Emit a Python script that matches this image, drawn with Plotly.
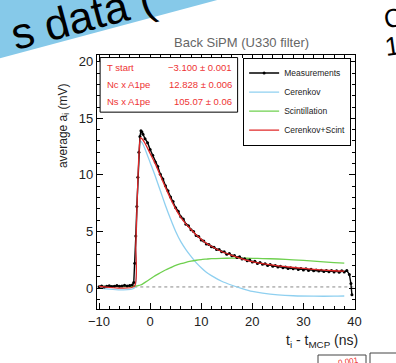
import plotly.graph_objects as go

# ---------------- data ----------------
meas_t = [-10, -9.5, -9, -8.5, -8, -7.5, -7, -6.5, -6, -5.5, -5, -4.5, -4, -3.5,
          -3.2, -3.0, -2.8, -2.6, -2.4, -2.2, -2.0, -1.8, -1.6, -1.4,
          -1.0, -0.5, 0, 0.5, 1.0, 1.5, 2.0, 2.5, 3.0, 3.5, 4.0, 4.5, 5.0, 5.5, 6.0, 6.5,
          7.0, 7.5, 8.0, 8.5, 9.0, 9.5, 10, 10.5, 11, 11.5, 12, 12.5, 13, 13.5, 14, 14.5,
          15, 15.5, 16, 16.5, 17, 17.5, 18, 18.5, 19, 19.5, 20, 20.5, 21, 21.5, 22, 22.5,
          23, 23.5, 24, 24.5, 25, 25.5, 26, 26.5, 27, 27.5, 28, 28.5, 29, 29.5, 30, 30.5,
          31, 31.5, 32, 32.5, 33, 33.5, 34, 34.5, 35, 35.5, 36, 36.5, 37, 37.5, 38, 38.5,
          39, 39.3, 39.5]
meas_v = [0.12, 0.18, 0.10, 0.16, 0.20, 0.13, 0.17, 0.22, 0.15, 0.19, 0.24, 0.18, 0.22, 0.27,
          0.5, 2.2, 4.6, 7.2, 9.8, 12.0, 13.4, 13.9, 13.8, 13.6,
          13.2, 12.85, 12.25, 11.75, 11.15, 10.75, 10.05, 9.65, 9.05, 8.6, 8.05, 7.65, 7.1, 6.8, 6.3, 6.1,
          5.65, 5.5, 5.15, 5.0, 4.65, 4.55, 4.25, 4.15, 3.9, 3.85, 3.65, 3.6, 3.4, 3.4, 3.2, 3.2,
          3.0, 3.05, 2.85, 2.88, 2.7, 2.76, 2.56, 2.6, 2.42, 2.47, 2.3, 2.36, 2.18, 2.26, 2.1, 2.16,
          2.0, 2.08, 1.93, 2.0, 1.87, 1.93, 1.8, 1.86, 1.73, 1.8, 1.7, 1.78, 1.65, 1.73, 1.6, 1.7,
          1.56, 1.67, 1.53, 1.6, 1.5, 1.58, 1.46, 1.56, 1.44, 1.55, 1.42, 1.53, 1.4, 1.52, 1.42, 1.55,
          1.2, 0.4, -0.6]

fit_t = [-10, -3.1, -2.8, -2.5, -2.2, -1.9, -1.5, -1, 0, 1, 2, 3, 4, 5, 6, 7, 8, 9, 10,
         11, 12, 14, 16, 18, 20, 22, 25, 28, 32, 36, 38]
cerenkov = [0.0, 0.0, 3.5, 8.0, 11.5, 13.0, 12.8, 12.3, 11.1, 9.9, 8.6, 7.3, 6.1, 5.0, 4.1,
            3.4, 2.8, 2.25, 1.8, 1.4, 1.1, 0.6, 0.25, -0.05, -0.3, -0.45, -0.6, -0.68, -0.72,
            -0.72, -0.7]
scint = [0.15, 0.15, 0.18, 0.2, 0.23, 0.27, 0.35, 0.5, 0.8, 1.1, 1.35, 1.6, 1.8, 2.0, 2.15,
         2.28, 2.38, 2.46, 2.52, 2.56, 2.6, 2.63, 2.64, 2.64, 2.63, 2.61, 2.57, 2.5, 2.38,
         2.25, 2.2]
combined = [0.15, 0.15, 3.7, 8.2, 11.7, 13.3, 13.15, 12.8, 11.9, 11.0, 9.95, 8.9, 7.9, 7.0,
            6.25, 5.68, 5.18, 4.71, 4.32, 3.96, 3.7, 3.23, 2.89, 2.59, 2.33, 2.16, 1.97,
            1.82, 1.66, 1.53, 1.5]

baseline_t = [-3.1, 40]
baseline_v = [0.1, 0.1]

x_ticks = [-10, 0, 10, 20, 30, 40]
y_ticks = [0, 5, 10, 15, 20]

param_names = ["T start", "Nc x A1pe", "Ns x A1pe"]
param_values = ["\u22123.100 \u00b1 0.001", "12.828 \u00b1 0.006", "105.07 \u00b1 0.06"]

# ---------------- layout geometry ----------------
W, H = 396, 363
L, R, T, B = 97, 41, 55, 54
PW, PH = W - L - R, H - T - B


def px(x):
    return (x - L) / PW


def py(y):
    return (H - B - y) / PH


FONT = "Liberation Sans, Arial, Helvetica, sans-serif"
BLUE = "#8fd0f0"
GREEN = "#6fd04f"
RED = "#e02828"
TEXT_RED = "#ee3333"

fig = go.Figure()

fig.add_trace(go.Scatter(x=baseline_t, y=baseline_v, mode="lines", showlegend=False,
                         line=dict(color="#888888", width=1, dash="dot"), hoverinfo="skip"))
fig.add_trace(go.Scatter(x=fit_t, y=cerenkov, mode="lines", name="Cerenkov", legendrank=2,
                         line=dict(color=BLUE, width=1.3, shape="spline", smoothing=0.6)))
fig.add_trace(go.Scatter(x=fit_t, y=scint, mode="lines", name="Scintillation", legendrank=3,
                         line=dict(color=GREEN, width=1.3, shape="spline", smoothing=0.6)))
fig.add_trace(go.Scatter(x=meas_t, y=meas_v, mode="lines+markers", name="Measurements",
                         legendrank=1, line=dict(color="black", width=1.4),
                         marker=dict(color="black", size=3)))
fig.add_trace(go.Scatter(x=fit_t, y=combined, mode="lines", name="Cerenkov+Scint", legendrank=4,
                         line=dict(color=RED, width=1.3, shape="spline", smoothing=0.6)))

axis_common = dict(showline=True, linecolor="black", linewidth=1.2, mirror="allticks",
                   ticks="inside", ticklen=6, tickcolor="black", showgrid=False,
                   zeroline=False, tickfont=dict(family=FONT, size=13, color="#222"))

fig.update_xaxes(range=[-10.4, 40.1], tickvals=x_ticks,
                 minor=dict(dtick=2, ticks="inside", ticklen=3, tickcolor="black"),
                 **axis_common)
fig.update_yaxes(range=[-1.85, 20.6], tickvals=y_ticks,
                 minor=dict(dtick=1, ticks="inside", ticklen=3, tickcolor="black"),
                 **axis_common)

shapes = []
annotations = []


def note(x, y, text, size, color="#222", angle=0, xanchor="center", yanchor="middle"):
    annotations.append(dict(xref="paper", yref="paper", x=x, y=y, text=text,
                            showarrow=False, textangle=angle, xanchor=xanchor,
                            yanchor=yanchor, font=dict(family=FONT, size=size, color=color)))


# slide background: blue banner in the top-left corner
shapes.append(dict(type="path", xref="paper", yref="paper", layer="below",
                   path=(f"M {px(-40)},{py(-12)} L {px(262)},{py(-12)} "
                         f"L {px(-40)},{py(69)} Z"),
                   fillcolor="#86c9e9", line=dict(width=0)))
note(px(82), py(16), "s data (", 44, "black", angle=-15)
note(px(380), py(18), "C", 26, "black", angle=-8, xanchor="left")
note(px(381), py(46), "1", 26, "black", angle=-8, xanchor="left")

# title
note(0.56, py(42), "Back SiPM (U330 filter)", 13, "#666666")

# axis titles
note(1.02, py(341), "t<sub>i</sub> - t<sub>MCP</sub> (ns)", 14, xanchor="right")
note(px(64), 0.72, "average a<sub>i</sub> (mV)", 12, angle=-90)

# parameter box
bx0, bx1, by0, by1 = 0.012, 0.545, 0.775, 0.99
shapes.append(dict(type="rect", xref="paper", yref="paper", x0=bx0, x1=bx1, y0=by0, y1=by1,
                   line=dict(color="black", width=1), fillcolor="white", layer="above"))
for i, (nm, val) in enumerate(zip(param_names, param_values)):
    yy = by1 - 0.04 - i * 0.066
    note(bx0 + 0.02, yy, nm, 9.5, TEXT_RED, xanchor="left")
    note(bx1 - 0.015, yy, val, 9.5, TEXT_RED, xanchor="right")

# fragments of the next panel at the bottom right of the slide
shapes.append(dict(type="rect", xref="paper", yref="paper", x0=px(318), x1=px(366),
                   y0=py(374), y1=py(355), line=dict(color="#444", width=1)))
shapes.append(dict(type="rect", xref="paper", yref="paper", x0=px(370), x1=px(400),
                   y0=py(374), y1=py(353), line=dict(color="#444", width=1)))
note(px(362), py(361), "0.001", 8, TEXT_RED, angle=-8, xanchor="right")

fig.update_layout(
    width=W, height=H,
    margin=dict(l=L, r=R, t=T, b=B, autoexpand=False),
    paper_bgcolor="white", plot_bgcolor="white",
    font=dict(family=FONT, color="#222"),
    shapes=shapes, annotations=annotations,
    legend=dict(x=0.985, y=0.99, xanchor="right", yanchor="top", bgcolor="white",
                bordercolor="black", borderwidth=1, traceorder="normal",
                font=dict(family=FONT, size=8.5, color="#222"),
                itemwidth=30, tracegroupgap=0),
    showlegend=True,
)

fig.write_html("out.html", config={"displayModeBar": False},
               post_script="document.body.style.margin='0';")
